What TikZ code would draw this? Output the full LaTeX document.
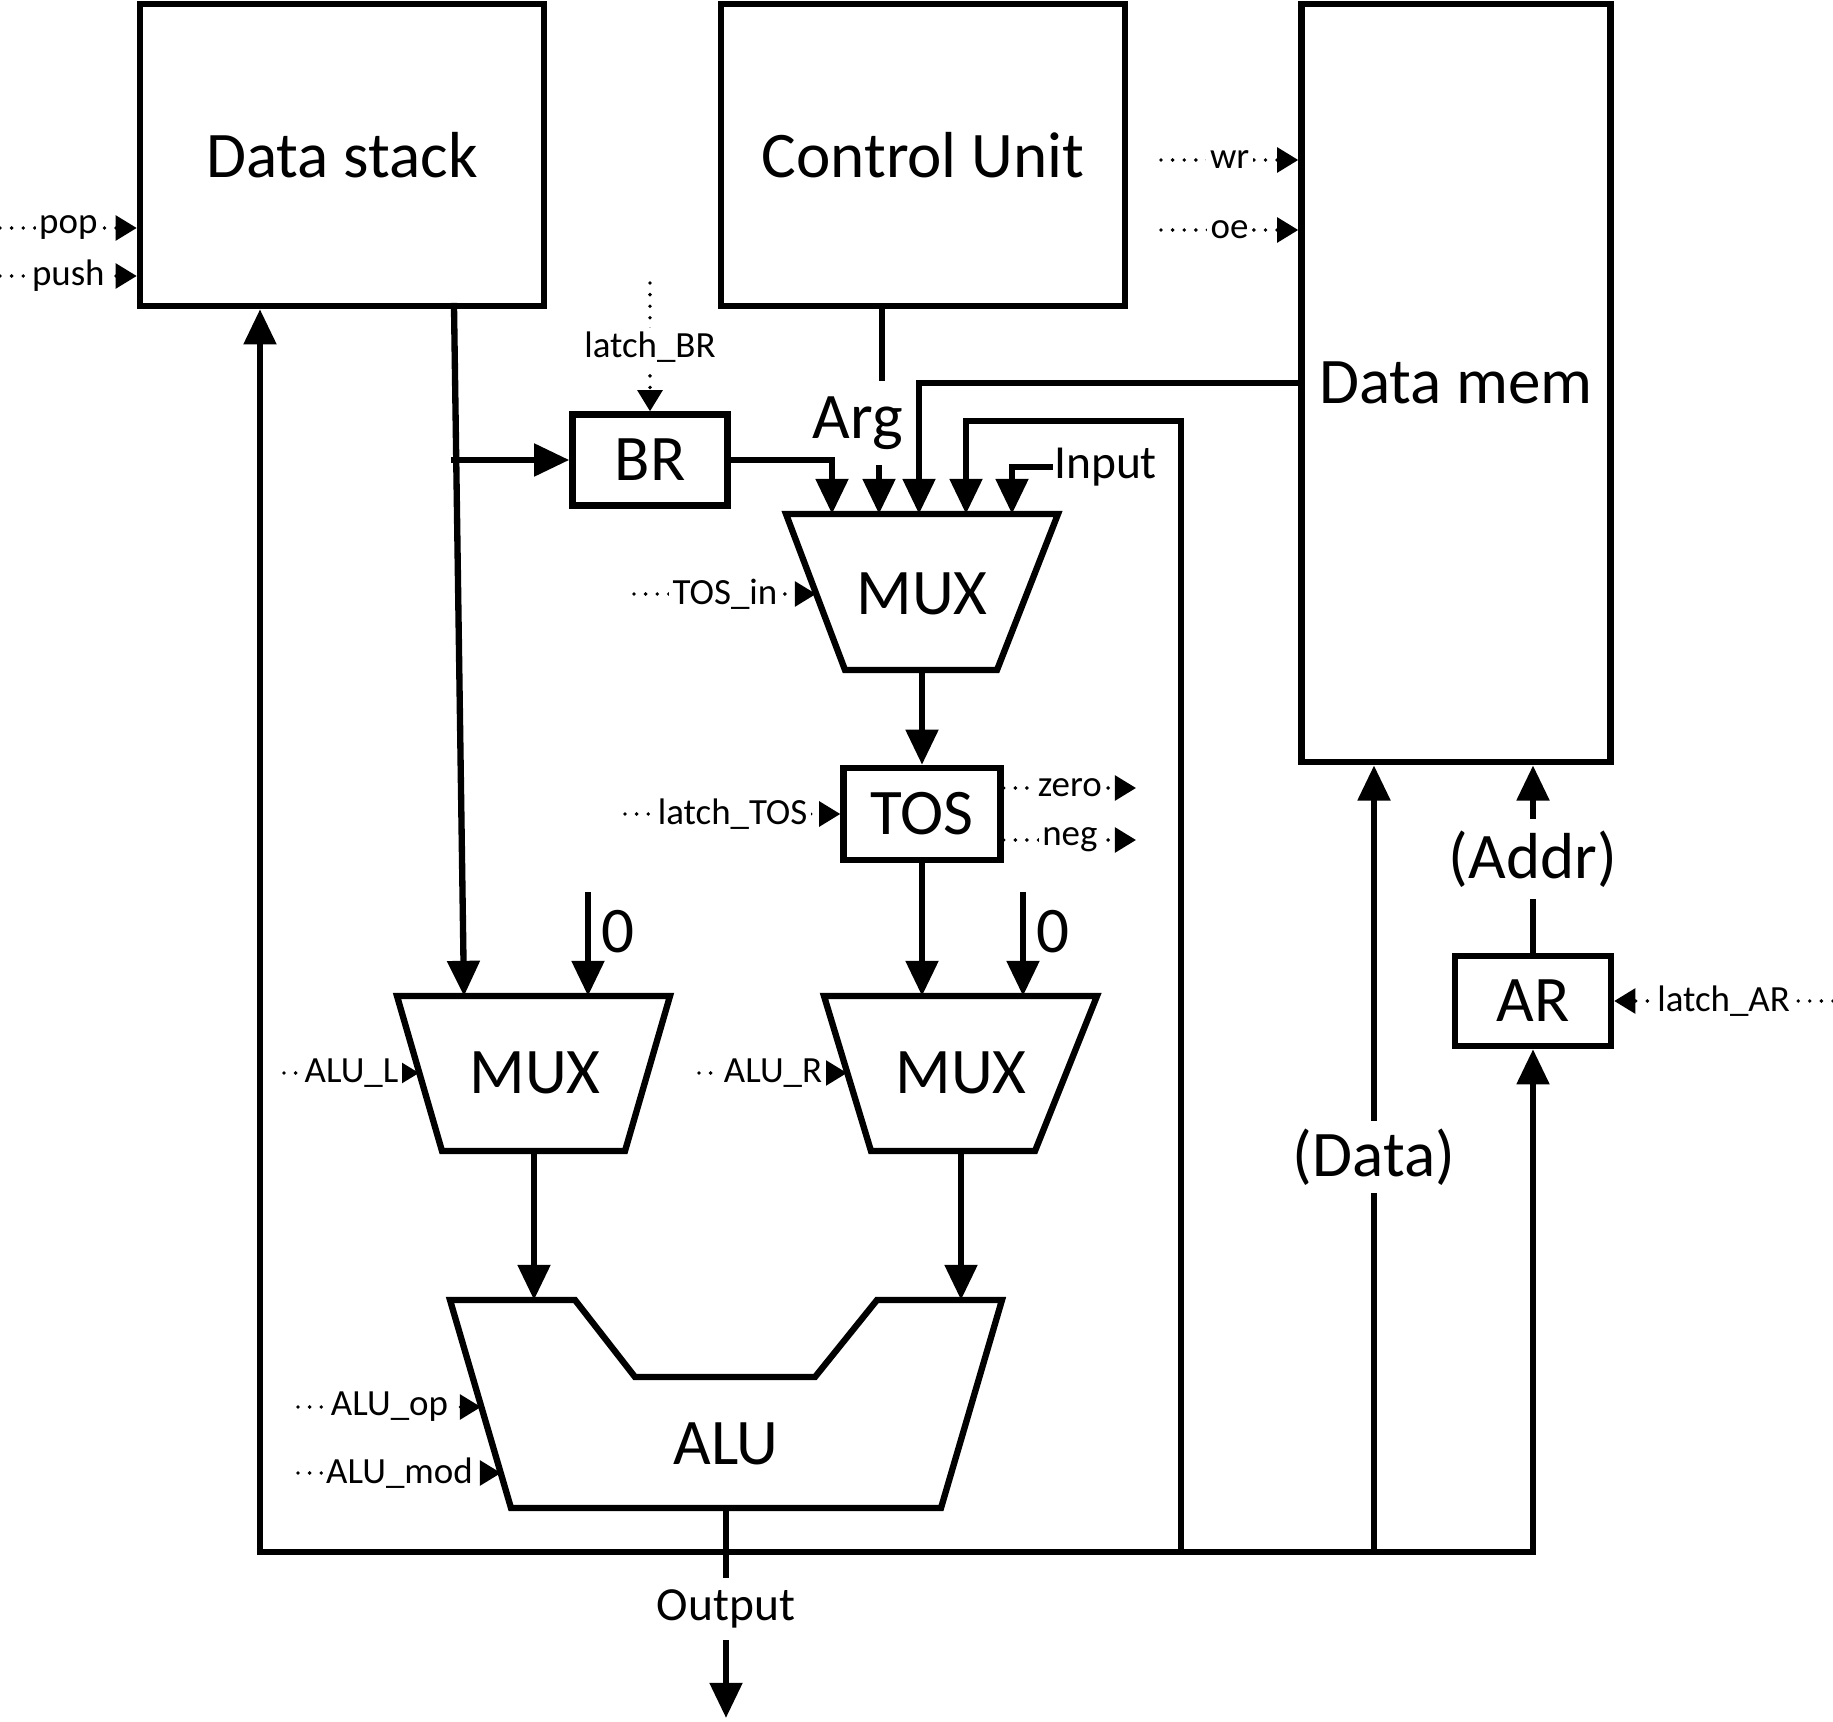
\documentclass[tikz,border=0pt]{standalone}
\usepackage{fontspec}
\setmainfont{Carlito}
\usetikzlibrary{arrows.meta, positioning, calc}

\begin{document}
\begin{tikzpicture}[
    x=0.01cm, y=-0.01cm,
    wire/.style={line width=1.8pt, line cap=rect},
    arrow/.style={wire, -{Triangle[length=10pt, width=9pt]}},
    sig/.style={line width=1.1pt, dash pattern=on 0pt off 3.3pt, line cap=round, -{Triangle[length=6pt, width=7pt]}},
    slbl/.style={font=\fontsize{10.5}{12}\selectfont, fill=white, inner sep=1pt},
    blk/.style={draw, line width=1.8pt, font=\fontsize{18.5}{22}\selectfont, inner sep=0pt},
    big/.style={font=\fontsize{18.5}{22}\selectfont, inner sep=1pt},
    io/.style={font=\fontsize{13.5}{16}\selectfont, inner sep=1pt}
  ]
  \useasboundingbox (0,0) rectangle (1833,1722);

  % Big blocks
  \node[blk, minimum width=4.04cm, minimum height=3.02cm] (stack) at (342,155) {Data stack};
  \node[blk, minimum width=4.04cm, minimum height=3.02cm] (cu) at (923,155) {Control Unit};
  \node[blk, minimum width=3.09cm, minimum height=7.58cm] (dm) at (1456,383) {Data mem};

  % Registers
  \node[blk, minimum width=1.55cm, minimum height=0.91cm] (br) at (650,460) {BR};
  \node[blk, minimum width=1.57cm, minimum height=0.92cm] (tos) at (922,814) {TOS};
  \node[blk, minimum width=1.56cm, minimum height=0.90cm] (ar) at (1533,1001) {AR};

  % Multiplexers
  \draw[wire] (786,514) -- (1058,514) -- (997,670) -- (845,670) -- cycle;
  \node[big] (muxtos) at (922,594) {MUX};
  \draw[wire] (397,996) -- (670,996) -- (625,1151) -- (442,1151) -- cycle;
  \node[big] (muxl) at (535,1073) {MUX};
  \draw[wire] (824,996) -- (1097,996) -- (1035,1151) -- (871,1151) -- cycle;
  \node[big] (muxr) at (961,1073) {MUX};

  % ALU
  \draw[wire] (450,1300) -- (575,1300) -- (635,1377) -- (815,1377) -- (877,1300)
    -- (1002,1300) -- (941,1508) -- (511,1508) -- cycle;
  \node[big] (alu) at (726,1444) {ALU};

  % Ports
  \coordinate (mxin1) at (832,514);
  \coordinate (mxin2) at (879,514);
  \coordinate (mxin3) at (919,514);
  \coordinate (mxin4) at (966,514);
  \coordinate (mxin5) at (1012,514);
  \coordinate (mxout) at (922,670);
  \coordinate (mlin1) at (464,996);
  \coordinate (mlin2) at (588,996);
  \coordinate (mrin1) at (922,996);
  \coordinate (mrin2) at (1023,996);
  \coordinate (mlout) at (534,1151);
  \coordinate (mrout) at (961,1151);
  \coordinate (aluin1) at (534,1300);
  \coordinate (aluin2) at (961,1300);
  \coordinate (aluout) at (726,1508);
  \coordinate (dsout) at (454,306);
  \coordinate (cuout) at (882,306);
  \coordinate (busL) at (260,1552);
  \coordinate (busR) at (1533,1552);
  \coordinate (fb) at (1181,1552);
  \coordinate (fbtop) at (1181,421);
  \coordinate (dbus) at (1374,1552);
  \coordinate (outend) at (726,1718);

  % Labels on wires
  \node[big, inner sep=5pt] (arg) at (858,423) {Arg};
  \node[io, anchor=west] (inp) at (1050,467) {Input};
  \node[io, inner sep=4pt] (outp) at (726,1609) {Output};
  \node[big, inner sep=3pt] (datal) at (1374,1157) {(Data)};
  \node[big, inner sep=4pt] (addr) at (1533,859) {(Addr)};

  % Bus
  \draw[arrow] (busR) -- (busL) -- (busL |- stack.south);
  \draw[arrow] (busR) -- (ar.south);
  \draw[wire] (aluout) -- (outp.north);
  \draw[arrow] (outp.south) -- (outend);
  \draw[wire] (dbus) -- (datal.south);
  \draw[arrow] (datal.north) -- (dbus |- dm.south);
  \draw[wire] (ar.north) -- (addr.south);
  \draw[arrow] (addr.north) -- (ar.north |- dm.south);

  % Inputs of the TOS multiplexer
  \draw[arrow] (dsout) -- (mlin1);
  \draw[arrow] (br.west -| dsout) -- (br.west);
  \draw[arrow] (br.east) -| (mxin1);
  \draw[wire] (cuout) -- (cuout |- arg.north);
  \draw[arrow] (mxin2 |- arg.south) -- (mxin2);
  \draw[arrow] (dm.west) -| (mxin3);
  \draw[arrow] (fb) -- (fbtop) -| (mxin4);
  \draw[arrow] (inp.west) -| (mxin5);

  % Datapath
  \draw[arrow] (mxout) -- (tos.north);
  \draw[arrow] (tos.south) -- (mrin1);
  \draw[arrow] ($(mlin2)+(0,-101)$) -- node[big, pos=0.36, right=2pt] (zl) {0} (mlin2);
  \draw[arrow] ($(mrin2)+(0,-101)$) -- node[big, pos=0.36, right=2pt] (zr) {0} (mrin2);
  \draw[arrow] (mlout) -- (aluin1);
  \draw[arrow] (mrout) -- (aluin2);

  % Control signals
  \coordinate (popS) at (0,228);
  \coordinate (pushS) at (0,276);
  \coordinate (wrS) at (1161,160);
  \coordinate (oeS) at (1161,230);
  \coordinate (lbrS) at (650,283);
  \coordinate (tinS) at (634,594);
  \coordinate (tinE) at (816,594);
  \coordinate (ltS) at (625,814);
  \coordinate (zeroE) at (1136,788);
  \coordinate (negE) at (1136,840);
  \coordinate (alS) at (284,1073);
  \coordinate (alE) at (419,1073);
  \coordinate (arS) at (699,1073);
  \coordinate (arE) at (847,1073);
  \coordinate (opS) at (298,1407);
  \coordinate (opE) at (481,1407);
  \coordinate (modS) at (298,1473);
  \coordinate (modE) at (501,1473);
  \coordinate (larS) at (1833,1001);

  \draw[sig] (popS) -- node[slbl] {pop} (popS -| stack.west);
  \draw[sig] (pushS) -- node[slbl] {push} (pushS -| stack.west);
  \draw[sig] (wrS) -- node[slbl] {wr} (wrS -| dm.west);
  \draw[sig] (oeS) -- node[slbl] {oe} (oeS -| dm.west);
  \draw[sig] (lbrS) -- node[slbl] {latch\_BR} (br.north);
  \draw[sig] (tinS) -- node[slbl] {TOS\_in} (tinE);
  \draw[sig] (ltS) -- node[slbl] {latch\_TOS} (tos.west);
  \draw[sig] (zeroE -| tos.east) -- node[slbl] {zero} (zeroE);
  \draw[sig] (negE -| tos.east) -- node[slbl] {neg} (negE);
  \draw[sig] (alS) -- node[slbl] {ALU\_L} (alE);
  \draw[sig] (arS) -- node[slbl] {ALU\_R} (arE);
  \draw[sig] (opS) -- node[slbl] {ALU\_op} (opE);
  \draw[sig] (modS) -- node[slbl] {ALU\_mod} (modE);
  \draw[sig] (larS) -- node[slbl] {latch\_AR} (ar.east);

\end{tikzpicture}
\end{document}
